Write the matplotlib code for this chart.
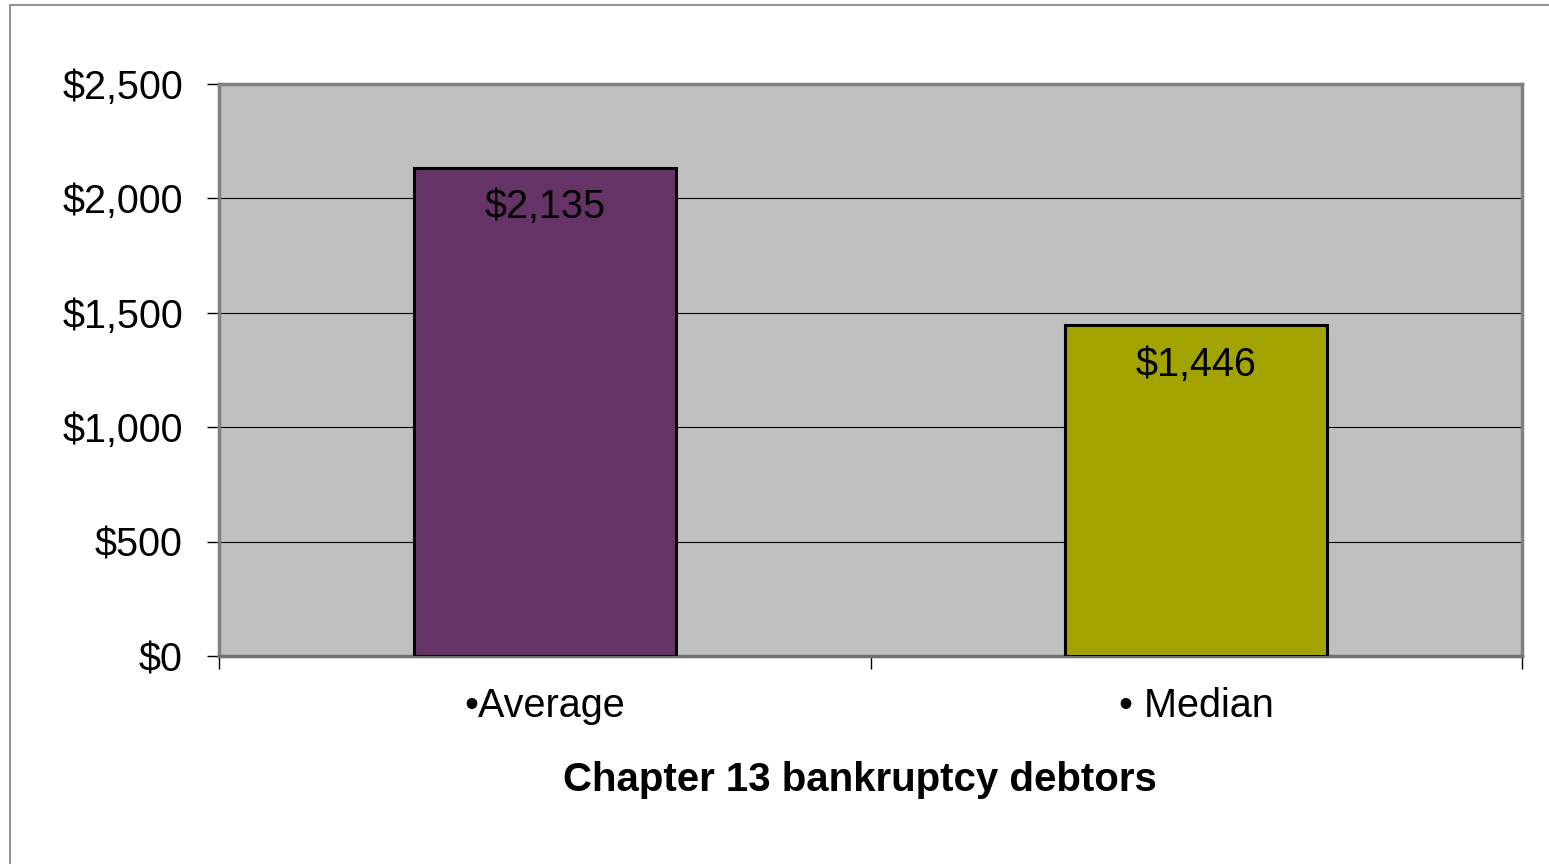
import matplotlib
matplotlib.use("Agg")
import matplotlib.pyplot as plt
from matplotlib.patches import Rectangle

categories = ["\u2022Average", "\u2022 Median"]
values = [2135, 1446]
bar_labels = ["$2,135", "$1,446"]
colors = ["#663366", "#A3A300"]
yticks = [0, 500, 1000, 1500, 2000, 2500]
ytick_labels = ["$0", "$500", "$1,000", "$1,500", "$2,000", "$2,500"]
xlabel = "Chapter 13 bankruptcy debtors"

plt.rcParams['font.family'] = ['Liberation Sans', 'DejaVu Sans']

W, H = 1549, 864
fig = plt.figure(figsize=(W / 100, H / 100), dpi=100)
fig.patches.append(Rectangle((10 / W, -0.1), 1.2, (H - 5) / H + 0.1,
                             transform=fig.transFigure, fill=False,
                             edgecolor="#808080", linewidth=1.2))

ax = fig.add_axes([219 / W, 1 - 656 / H, (1522 - 219) / W, (656 - 84) / H])
ax.set_facecolor("#C0C0C0")
ax.set_xlim(0, 2)
ax.set_ylim(0, 2500)

pos = [0.5, 1.5]
bars = ax.bar(pos, values, width=0.402, color=colors, edgecolor="black",
              linewidth=2.2, zorder=3)
for x, v, lab in zip(pos, values, bar_labels):
    ax.annotate(lab, (x, v), xytext=(0, -15), textcoords="offset points",
                ha="center", va="top", fontsize=28.5, color="black", zorder=4)

ax.set_yticks(yticks)
ax.set_yticklabels(ytick_labels, fontsize=28.5)
ax.yaxis.grid(True, color="black", linewidth=0.8, zorder=1)
ax.set_axisbelow(True)
ax.tick_params(axis="y", direction="out", length=9, width=1, color="black", pad=17)

ax.set_xticks([0, 1, 2])
ax.set_xticklabels(["", "", ""])
ax.set_xticks(pos, minor=True)
ax.set_xticklabels(categories, minor=True, fontsize=28.5)
ax.tick_params(axis="x", which="major", direction="out", length=9, width=1, color="black")
ax.tick_params(axis="x", which="minor", length=0, pad=22)

fig.text(860 / W, 1 - 780 / H, xlabel, fontsize=29, fontweight="bold",
         ha="center", va="center")

for s in ax.spines.values():
    s.set_color("#808080")
    s.set_linewidth(2.5)
ax.spines["bottom"].set_color("#707070")

fig.savefig("out.png", dpi=100)
